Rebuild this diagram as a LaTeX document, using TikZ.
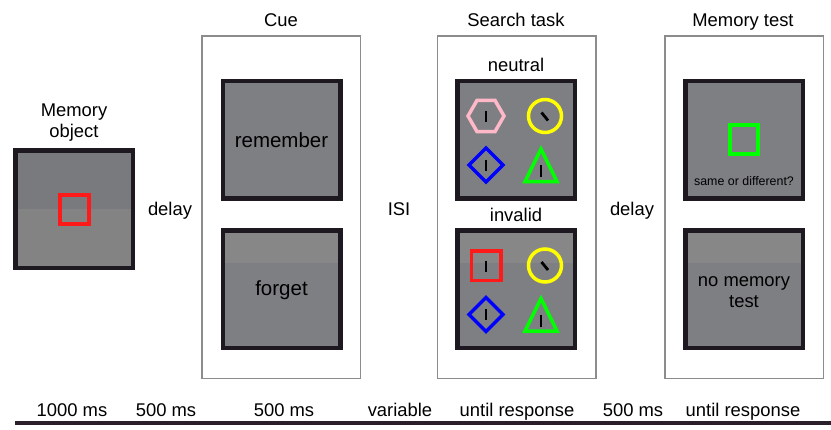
\documentclass[tikz,border=0pt]{standalone}
\usepackage{fontspec}
\setmainfont{Liberation Sans}
\definecolor{scr}{HTML}{7E7F83}
\definecolor{membot}{HTML}{838384}
\definecolor{scrdark}{HTML}{797A7E}
\definecolor{scrlight}{HTML}{878788}
\definecolor{bord}{HTML}{1E1820}
\definecolor{frm}{HTML}{8C8C8C}
\definecolor{pinkc}{HTML}{FFB8C8}
\definecolor{yel}{HTML}{FFFF00}
\definecolor{blu}{HTML}{0000FF}
\definecolor{grn}{HTML}{00FF00}
\definecolor{redc}{HTML}{FF1A1A}
\definecolor{tline}{HTML}{2A1F2A}
\begin{document}
\begin{tikzpicture}[x=1pt,y=-1pt,
  screen/.style={draw=bord, line width=4.5pt, fill=scr, minimum size=117.5pt, inner sep=0pt},
  topdark/.style={fill=membot, path picture={\fill[scrdark] (path picture bounding box.north west) rectangle (path picture bounding box.east);}},
  toplight/.style={path picture={\fill[scrlight] (path picture bounding box.north west) rectangle ([yshift=-33pt]path picture bounding box.north east);}},
  frame/.style={draw=frm, line width=1.5pt, fill=white, minimum width=158.5pt, minimum height=342.5pt, inner sep=0pt},
  shp/.style={line width=3.5pt, line join=miter},
  bar/.style={line width=2.8pt, black},
  lbl/.style={font=\fontsize{18.4}{21}\selectfont, inner sep=0pt, anchor=base},
  mlbl/.style={font=\fontsize{18.4}{21}\selectfont, inner sep=0pt, align=center},
  big/.style={font=\fontsize{20.5}{24}\selectfont, inner sep=0pt, anchor=base},
  small/.style={font=\fontsize{12.4}{14}\selectfont, inner sep=0pt, anchor=base}
]
\useasboundingbox (0,0) rectangle (831,429);

% frames
\node[frame] (cueframe) at (281,207) {};
\node[frame] (searchframe) at (516.5,207) {};
\node[frame] (testframe) at (744,207) {};

% headings
\node[lbl] (cuelbl) at (281,26.5) {Cue};
\node[lbl] (searchlbl) at (516,26.5) {Search task};
\node[lbl] (testlbl) at (743,26.5) {Memory test};
\node[mlbl] (memlbl) at (74,122.5) {Memory\\object};

% memory object
\node[screen, topdark] (mem) at (74,209) {};
\draw[redc, line width=4pt] (59.5,194.5) rectangle (88.5,223.5);

% gaps
\node[lbl] (delay1) at (170,215.5) {delay};
\node[lbl] (isi) at (399,215.5) {ISI};
\node[lbl] (delay2) at (632,215.5) {delay};

% cue screens
\node[screen] (remember) at (281.5,139.5) {};
\node[big] (remembertxt) at (281.5,147) {remember};
\node[screen, toplight] (forget) at (281.5,289) {};
\node[big] (forgettxt) at (281.5,295) {forget};

% search screens
\node[lbl] (neutrallbl) at (516,71.5) {neutral};
\node[screen] (neutral) at (516,139.5) {};
\node[lbl] (invalidlbl) at (516,221) {invalid};
\node[screen, toplight] (invalid) at (516,289) {};

% neutral display
\draw[shp, pinkc] (468,116) -- (477,100.4) -- (495,100.4) -- (504,116) -- (495,131.6) -- (477,131.6) -- cycle;
\draw[bar] (486,111) -- (486,122);
\draw[shp, yel] (545,116) circle[radius=16.5pt];
\draw[bar] (541.5,112.5) -- (548,120.5);
\draw[shp, blu] (469,165) -- (486,148) -- (503,165) -- (486,182) -- cycle;
\draw[bar] (486,159.5) -- (486,170.5);
\draw[shp, grn] (541,149) -- (557,181.5) -- (525,181.5) -- cycle;
\draw[bar] (541,165) -- (541,177);

% invalid display
\begin{scope}[shift={(0,149.5)}]
\draw[shp, redc] (471.25,101.25) rectangle (500.75,130.75);
\draw[bar] (486,111) -- (486,122);
\draw[shp, yel] (545,116) circle[radius=16.5pt];
\draw[bar] (541.5,112.5) -- (548,120.5);
\draw[shp, blu] (469,165) -- (486,148) -- (503,165) -- (486,182) -- cycle;
\draw[bar] (486,159.5) -- (486,170.5);
\draw[shp, grn] (541,149) -- (557,181.5) -- (525,181.5) -- cycle;
\draw[bar] (541,165) -- (541,177);
\end{scope}

% memory test screens
\node[screen] (test) at (744,139.5) {};
\draw[grn, line width=4pt] (729.75,125.25) rectangle (758.25,153.75);
\node[small] (sametxt) at (744,185) {same or different?};
\node[screen, toplight] (notest) at (744,289) {};
\node[mlbl] (notesttxt) at (744,292.5) {no memory\\test};

% timeline
\node[lbl] (t1) at (72,416) {1000 ms};
\node[lbl] (t2) at (166,416) {500 ms};
\node[lbl] (t3) at (284,416) {500 ms};
\node[lbl] (t4) at (400,416) {variable};
\node[lbl] (t5) at (517,416) {until response};
\node[lbl] (t6) at (633,416) {500 ms};
\node[lbl] (t7) at (743,416) {until response};
\coordinate (tl0) at (15,423);
\coordinate (tl1) at (831,423);
\draw[tline, line width=3.5pt] (tl0) -- (tl1);
\end{tikzpicture}
\end{document}
